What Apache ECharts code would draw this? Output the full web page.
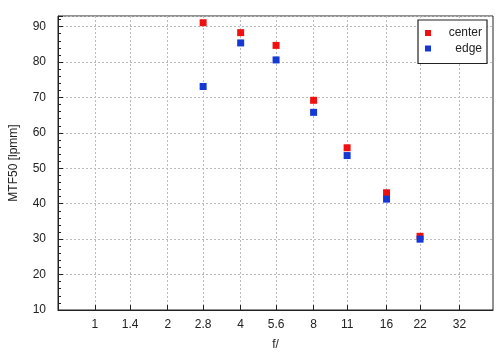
<!DOCTYPE html>
<html><head><meta charset="utf-8">
<script src="https://cdn.jsdelivr.net/npm/echarts@6/dist/echarts.min.js"></script>
<style>html,body{margin:0;padding:0;background:#fff}#c{width:500px;height:360px}</style>
</head><body><div id="c"></div>
<script>
const fStops = [1, 1.4, 2, 2.8, 4, 5.6, 8, 11, 16, 22, 32];
const apertures = [2.8, 4, 5.6, 8, 11, 16, 22];
const centerValues = [91.1, 88.3, 84.7, 69.2, 55.8, 43.1, 30.8];
const edgeValues = [73.1, 85.4, 80.6, 65.8, 53.6, 41.3, 30.0];
const seriesNames = ['center', 'edge'];

const FONT = '"Liberation Sans", Arial, sans-serif';
const chart = echarts.init(document.getElementById('c'), null, {renderer: 'canvas'});
chart.setOption({
  animation: false,
  textStyle: {fontFamily: FONT},
  grid: {left: 55, right: 7, top: 16, bottom: 50, show: true, borderColor: '#222', borderWidth: 1, containLabel: false},
  legend: {
    orient: 'vertical', right: 13, top: 20,
    icon: 'rect', itemWidth: 6, itemHeight: 6, itemGap: 1.5,
    itemStyle: {borderWidth: 0},
    borderColor: '#222', borderWidth: 1.2, backgroundColor: '#fff',
    padding: [6, 5, 8, 7],
    formatter: '{t|{name}}',
    textStyle: {fontSize: 12, color: '#222', fontFamily: FONT, lineHeight: 14,
      rich: {t: {width: 46, align: 'right', fontSize: 12, color: '#222', fontFamily: FONT, lineHeight: 14}}},
    data: seriesNames
  },
  xAxis: {
    type: 'log', logBase: 2, min: 0.705, max: 44,
    name: 'f/', nameLocation: 'middle', nameGap: 29,
    nameTextStyle: {fontSize: 12, color: '#222', fontFamily: FONT},
    axisLine: {show: true, lineStyle: {color: '#222', width: 1}},
    axisTick: {show: true, inside: true, length: 5, customValues: fStops, lineStyle: {color: '#222'}},
    minorTick: {show: false},
    axisLabel: {customValues: fStops, fontSize: 12, color: '#222', margin: 9, fontFamily: FONT,
      formatter: v => String(v)},
    splitLine: {show: true, lineStyle: {color: '#bbb', type: [2, 2], width: 1}},
    minorSplitLine: {show: false}
  },
  yAxis: {
    type: 'value', min: 10, max: 93, interval: 10,
    name: 'MTF50 [lpmm]', nameLocation: 'middle', nameGap: 38,
    nameTextStyle: {fontSize: 12, color: '#222', fontFamily: FONT},
    axisLine: {show: true, lineStyle: {color: '#222', width: 1}},
    axisTick: {show: true, inside: true, length: 5, lineStyle: {color: '#222'}},
    minorTick: {show: true, splitNumber: 5, length: 3, lineStyle: {color: '#222'}},
    axisLabel: {fontSize: 12, color: '#222', margin: 12, showMaxLabel: false, fontFamily: FONT},
    splitLine: {show: true, lineStyle: {color: '#bbb', type: [2, 2], width: 1}}
  },
  series: [
    {name: seriesNames[0], type: 'scatter', symbol: 'rect', symbolSize: 7,
     itemStyle: {color: '#f01010', opacity: 1},
     data: apertures.map((a, i) => [a, centerValues[i]])},
    {name: seriesNames[1], type: 'scatter', symbol: 'rect', symbolSize: 7,
     itemStyle: {color: '#1438d4', opacity: 1},
     data: apertures.map((a, i) => [a, edgeValues[i]])}
  ]
});
</script></body></html>
